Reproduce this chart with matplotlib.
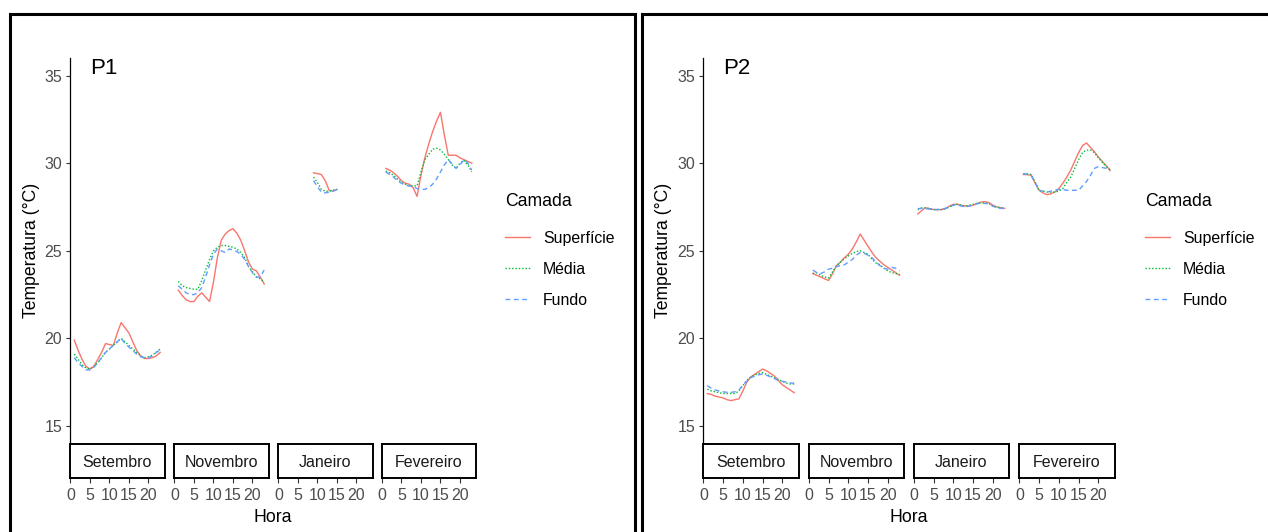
import matplotlib
matplotlib.use('Agg')
import matplotlib.pyplot as plt
from matplotlib.patches import Rectangle
from matplotlib.lines import Line2D

plt.rcParams['font.family'] = ['Liberation Sans', 'DejaVu Sans']

W, H = 1268, 532
MESES = ['Setembro', 'Novembro', 'Janeiro', 'Fevereiro']
CAMADAS = ['Superfície', 'Média', 'Fundo']
CORES = ['#F8766D', '#00BA38', '#619CFF']
ESTILOS = ['-', (0, (1, 1.4)), (0, (3.5, 2.5))]
Y_TICKS = [15, 20, 25, 30, 35]
X_TICKS = [0, 5, 10, 15, 20]

HORAS = list(range(1, 24))
HORAS_JAN_P1 = list(range(9, 16))

# ---- P1 ----
p1_set_sup = [19.9, 19.3, 18.8, 18.4, 18.25, 18.4, 18.8, 19.2, 19.7, 19.65, 19.6, 20.3,
              20.9, 20.6, 20.3, 19.8, 19.3, 19.0, 18.85, 18.85, 18.9, 19.0, 19.2]
p1_set_med = [19.1, 18.8, 18.5, 18.3, 18.25, 18.4, 18.6, 18.9, 19.2, 19.4, 19.6, 19.8,
              20.0, 19.8, 19.6, 19.4, 19.2, 19.0, 18.9, 18.95, 19.05, 19.2, 19.4]
p1_set_fun = [18.9, 18.6, 18.4, 18.2, 18.2, 18.35, 18.6, 18.9, 19.2, 19.4, 19.6, 19.8,
              20.0, 19.7, 19.5, 19.3, 19.1, 18.95, 18.9, 18.9, 19.0, 19.2, 19.35]
p1_nov_sup = [22.75, 22.45, 22.2, 22.1, 22.1, 22.4, 22.6, 22.35, 22.1, 23.2, 24.6, 25.6,
              25.95, 26.15, 26.26, 26.0, 25.6, 25.0, 24.35, 23.95, 23.85, 23.5, 23.1]
p1_nov_med = [23.25, 23.0, 22.9, 22.85, 22.8, 22.8, 23.3, 23.9, 24.5, 25.0, 25.2, 25.3,
              25.3, 25.25, 25.2, 25.1, 24.9, 24.6, 24.1, 23.8, 23.5, 23.4, 23.2]
p1_nov_fun = [23.0, 22.8, 22.6, 22.5, 22.5, 22.6, 22.9, 23.5, 24.2, 24.8, 25.1, 25.0,
              24.9, 25.1, 25.05, 24.95, 24.8, 24.5, 24.1, 23.75, 23.5, 23.5, 23.9]
p1_jan_sup = [29.45, 29.4, 29.35, 29.0, 28.45, 28.4, 28.5]
p1_jan_med = [29.2, 28.9, 28.5, 28.4, 28.4, 28.45, 28.5]
p1_jan_fun = [29.0, 28.65, 28.35, 28.3, 28.35, 28.4, 28.5]
p1_fev_sup = [29.7, 29.6, 29.45, 29.25, 29.0, 28.85, 28.8, 28.6, 28.1, 29.3, 30.3, 31.1,
              31.8, 32.4, 32.9, 31.6, 30.45, 30.45, 30.45, 30.3, 30.2, 30.1, 30.0]
p1_fev_med = [29.55, 29.45, 29.3, 29.1, 28.9, 28.8, 28.7, 28.7, 28.7, 29.5, 30.2, 30.5,
              30.8, 30.85, 30.75, 30.5, 30.2, 29.9, 29.7, 30.0, 30.15, 29.9, 29.5]
p1_fev_fun = [29.5, 29.35, 29.2, 29.0, 28.85, 28.75, 28.7, 28.65, 28.55, 28.5, 28.5, 28.6,
              28.8, 29.1, 29.5, 29.9, 30.2, 29.95, 29.7, 29.9, 30.2, 30.0, 29.6]

# ---- P2 ----
p2_set_sup = [16.85, 16.8, 16.7, 16.65, 16.6, 16.5, 16.45, 16.5, 16.55, 17.0, 17.5, 17.8,
              17.95, 18.1, 18.25, 18.15, 18.0, 17.85, 17.6, 17.35, 17.2, 17.05, 16.9]
p2_set_med = [17.1, 17.0, 16.95, 16.9, 16.85, 16.85, 16.85, 16.85, 17.0, 17.3, 17.6, 17.8,
              17.9, 18.0, 18.05, 17.95, 17.85, 17.75, 17.65, 17.55, 17.45, 17.4, 17.4]
p2_set_fun = [17.3, 17.15, 17.05, 17.0, 16.95, 16.92, 16.92, 16.95, 17.05, 17.35, 17.55, 17.75,
              17.85, 17.92, 17.97, 17.9, 17.8, 17.7, 17.6, 17.55, 17.5, 17.45, 17.45]
p2_nov_sup = [23.7, 23.6, 23.5, 23.4, 23.3, 23.7, 24.15, 24.35, 24.6, 24.8, 25.1, 25.5,
              25.95, 25.6, 25.25, 24.9, 24.6, 24.4, 24.2, 24.05, 23.9, 23.75, 23.6]
p2_nov_med = [23.7, 23.75, 23.6, 23.5, 23.45, 23.8, 24.15, 24.35, 24.55, 24.7, 24.85, 24.95,
              25.0, 24.9, 24.8, 24.5, 24.3, 24.2, 24.0, 23.85, 23.75, 23.7, 23.65]
p2_nov_fun = [23.9, 23.75, 23.7, 23.8, 23.95, 24.0, 24.1, 24.15, 24.2, 24.35, 24.5, 24.75,
              24.9, 24.85, 24.75, 24.6, 24.35, 24.15, 24.0, 23.95, 24.05, 24.0, 23.85]
p2_jan_sup = [27.1, 27.3, 27.45, 27.4, 27.35, 27.35, 27.35, 27.4, 27.55, 27.65, 27.65, 27.6,
              27.55, 27.55, 27.6, 27.7, 27.78, 27.8, 27.75, 27.6, 27.5, 27.45, 27.42]
p2_jan_med = [27.35, 27.45, 27.45, 27.4, 27.35, 27.35, 27.35, 27.4, 27.5, 27.6, 27.65, 27.6,
              27.55, 27.6, 27.65, 27.7, 27.72, 27.72, 27.7, 27.55, 27.5, 27.45, 27.42]
p2_jan_fun = [27.4, 27.42, 27.4, 27.38, 27.35, 27.35, 27.38, 27.42, 27.5, 27.6, 27.62, 27.55,
              27.5, 27.55, 27.62, 27.68, 27.72, 27.7, 27.68, 27.55, 27.45, 27.42, 27.4]
p2_fev_sup = [29.35, 29.35, 29.3, 28.85, 28.45, 28.3, 28.2, 28.25, 28.35, 28.55, 28.85, 29.2,
              29.6, 30.1, 30.6, 31.0, 31.15, 30.9, 30.65, 30.35, 30.1, 29.85, 29.6]
p2_fev_med = [29.4, 29.4, 29.35, 28.9, 28.45, 28.4, 28.35, 28.35, 28.35, 28.4, 28.55, 28.9,
              29.2, 29.7, 30.2, 30.6, 30.75, 30.75, 30.6, 30.3, 30.05, 29.8, 29.6]
p2_fev_fun = [29.4, 29.35, 29.3, 28.9, 28.45, 28.4, 28.35, 28.4, 28.45, 28.5, 28.5, 28.45,
              28.45, 28.45, 28.45, 28.7, 28.95, 29.3, 29.7, 29.8, 29.75, 29.7, 29.55]

P1 = [(HORAS, [p1_set_sup, p1_set_med, p1_set_fun]),
      (HORAS, [p1_nov_sup, p1_nov_med, p1_nov_fun]),
      (HORAS_JAN_P1, [p1_jan_sup, p1_jan_med, p1_jan_fun]),
      (HORAS, [p1_fev_sup, p1_fev_med, p1_fev_fun])]
P2 = [(HORAS, [p2_set_sup, p2_set_med, p2_set_fun]),
      (HORAS, [p2_nov_sup, p2_nov_med, p2_nov_fun]),
      (HORAS, [p2_jan_sup, p2_jan_med, p2_jan_fun]),
      (HORAS, [p2_fev_sup, p2_fev_med, p2_fev_fun])]


def rect(x, y, w, h):
    # pixel box (top-left origin) -> figure fraction
    return [x / W, 1 - (y + h) / H, w / W, h / H]


TOP, BOT, STRIP = 58, 443.5, 34.5


def painel(fig, lefts, width, dados, tag, ylab_x, leg_x):
    for i, (mes, (horas, series)) in enumerate(zip(MESES, dados)):
        ax = fig.add_axes(rect(lefts[i], TOP, width, BOT - TOP))
        for y, c, ls in zip(series, CORES, ESTILOS):
            ax.plot(horas, y, color=c, ls=ls, lw=1.0)
        ax.set_xlim(-0.1, 24.1); ax.set_ylim(14, 36)
        ax.set_xticks([])
        for s in ['top', 'right', 'bottom']:
            ax.spines[s].set_visible(False)
        if i == 0:
            ax.spines['left'].set_linewidth(0.9)
            ax.set_yticks(Y_TICKS)
            ax.tick_params(axis='y', length=3.2, width=0.8, color='#333333',
                           labelsize=11.5, labelcolor='#4D4D4D', pad=2.5)
            ax.text(0.21, 0.973, tag, transform=ax.transAxes, fontsize=16, va='center')
        else:
            ax.spines['left'].set_visible(False)
            ax.set_yticks([])
        # strip below the panel, x axis under it
        sx = fig.add_axes(rect(lefts[i], BOT, width, STRIP))
        sx.set_xlim(-0.1, 24.1); sx.set_yticks([])
        sx.set_xticks(X_TICKS)
        sx.tick_params(axis='x', length=3.5, width=0.8, color='#333333',
                       labelsize=11.5, labelcolor='#4D4D4D', pad=3.5)
        for s in sx.spines.values():
            s.set_linewidth(1.4)
        sx.text(0.5, 0.44, mes, transform=sx.transAxes, ha='center', va='center',
                fontsize=11.5, color='#1A1A1A')
    mid = (lefts[0] + lefts[-1] + width) / 2
    fig.text(mid / W, 1 - 518 / H, 'Hora', ha='center', va='center', fontsize=12.7)
    fig.text(ylab_x / W, 1 - (TOP + BOT) / 2 / H, 'Temperatura (°C)', rotation=90,
             ha='center', va='center', fontsize=12.7)
    fig.text(leg_x / W, 1 - 201 / H, 'Camada', ha='left', va='center', fontsize=12.7)
    handles = [Line2D([], [], color=c, ls=ls, lw=1.0) for c, ls in zip(CORES, ESTILOS)]
    fig.legend(handles, CAMADAS, loc='upper left',
               bbox_to_anchor=(leg_x / W, 1 - 231 / H), frameon=False,
               fontsize=11.4, handlelength=1.6, handletextpad=0.8,
               labelspacing=1.01, borderpad=0, borderaxespad=0)


fig = plt.figure(figsize=(W / 100, H / 100), dpi=100)
fig.patch.set_facecolor('white')

painel(fig, [70, 174, 278, 381.5], 94.5, P1, 'P1', 31, 505)
painel(fig, [703, 808.5, 913.5, 1019], 95.5, P2, 'P2', 664, 1145)

# outer frames around each plot
for x0, x1 in [(9.5, 634.5), (642, 1275)]:
    fig.add_artist(Rectangle((x0 / W, -0.1), (x1 - x0) / W, 1.1 - 13.5 / H,
                             transform=fig.transFigure, fill=False, ec='black', lw=2.2))

fig.savefig('out.png', dpi=100)
